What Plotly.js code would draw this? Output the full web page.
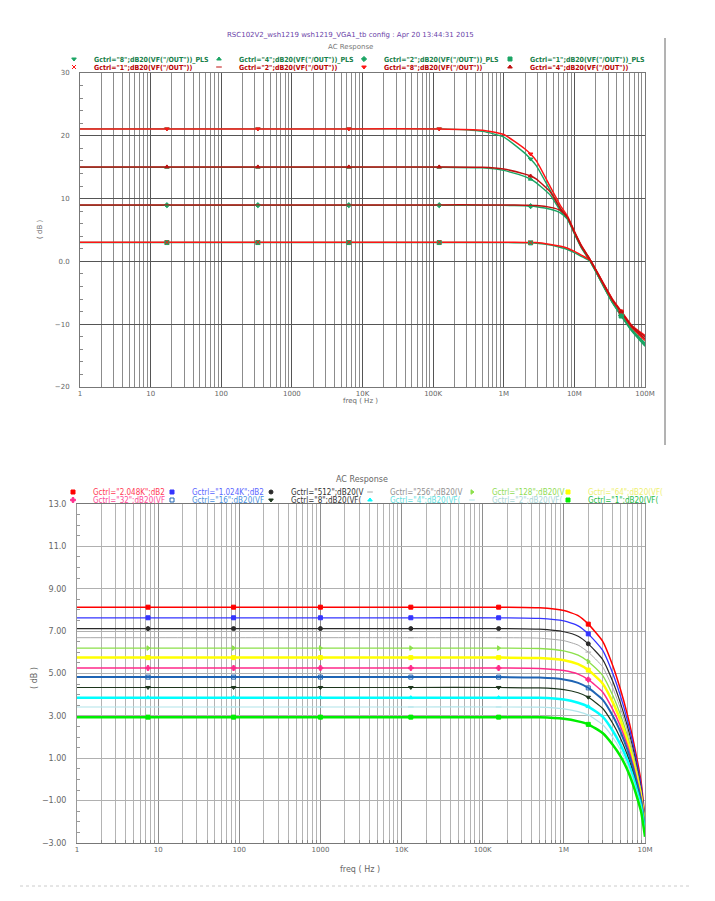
<!DOCTYPE html>
<html>
<head>
<meta charset="utf-8">
<script src="https://cdn.plot.ly/plotly-3.0.1.min.js"></script>
<style>body{margin:0;background:#fff} #chart{width:715px;height:901px}</style>
</head>
<body>
<div id="chart"></div>
<script>
// ---- top chart: AC response, Gctrl 1/2/4/8, with and without PLS ----
let topFreq = [1, 17, 330, 6400, 122000, 500000, 1e6, 2e6, 2.4e6, 2.9e6, 4.6e6, 6.4e6, 8e6, 1e7, 1.25e7, 1.67e7, 2.5e7, 3.5e7, 4.6e7, 6.5e7, 1e8]
let topMarks = [1, 2, 3, 4, 8, 18]

let g8 = [21.1, 21.1, 21.1, 21.1, 21.1, 20.9, 20.2, 17.9, 17.1, 16.0, 11.8, 8.8, 7.2, 4.8, 2.6, 0.3, -3.2, -6.1, -7.9, -10.2, -11.8]
let g4 = [15.05, 15.05, 15.05, 15.05, 15.05, 15.0, 14.7, 13.9, 13.6, 13.1, 11.0, 8.3, 7.0, 4.7, 2.5, 0.3, -3.3, -6.2, -8.0, -10.3, -12.0]
let g2 = [9.0, 9.0, 9.0, 9.0, 9.0, 9.0, 8.98, 8.95, 8.92, 8.9, 8.6, 8.1, 7.0, 4.6, 2.4, 0.2, -3.3, -6.2, -8.0, -10.4, -12.3]
let g1 = [3.05, 3.05, 3.05, 3.05, 3.05, 3.05, 3.04, 3.02, 3.0, 3.0, 2.7, 2.4, 2.1, 1.6, 1.0, 0.2, -3.4, -6.3, -8.1, -10.5, -12.6]
let g8Pls = [21.1, 21.1, 21.1, 21.1, 21.1, 20.7, 19.8, 17.2, 16.3, 15.2, 11.2, 8.4, 6.9, 4.6, 2.4, 0.1, -3.5, -6.5, -8.4, -10.8, -13.0]
let g4Pls = [15.0, 15.0, 15.0, 15.0, 15.0, 14.9, 14.5, 13.5, 13.1, 12.5, 10.5, 8.0, 6.8, 4.5, 2.3, 0.1, -3.6, -6.6, -8.5, -10.9, -13.1]
let g2Pls = [8.95, 8.95, 8.95, 8.95, 8.95, 8.95, 8.92, 8.85, 8.8, 8.7, 8.3, 7.7, 6.7, 4.4, 2.2, 0.0, -3.6, -6.6, -8.6, -11.0, -13.3]
let g1Pls = [3.0, 3.0, 3.0, 3.0, 3.0, 3.0, 2.99, 2.97, 2.95, 2.9, 2.6, 2.2, 1.9, 1.4, 0.8, 0.0, -3.7, -6.7, -8.7, -11.1, -13.5]

let topNames = [
  'Gctrl="8";dB20(VF("/OUT"))_PLS', 'Gctrl="4";dB20(VF("/OUT"))_PLS',
  'Gctrl="2";dB20(VF("/OUT"))_PLS', 'Gctrl="1";dB20(VF("/OUT"))_PLS',
  'Gctrl="1";dB20(VF("/OUT"))', 'Gctrl="2";dB20(VF("/OUT"))',
  'Gctrl="8";dB20(VF("/OUT"))', 'Gctrl="4";dB20(VF("/OUT"))'
]
let topValues = [g8Pls, g4Pls, g2Pls, g1Pls, g1, g2, g8, g4]

// ---- bottom chart: AC response, Gctrl 1 .. 2.048K ----
let botFreq = [1, 7.5, 85, 1000, 13000, 157000, 500000, 1e6, 1.5e6, 2e6, 3e6, 4e6, 5e6, 6e6, 7e6, 8e6, 9e6, 1e7]
let botMarks = [1, 2, 3, 4, 5, 9]

let gc2048 = [8.13, 8.13, 8.13, 8.13, 8.13, 8.13, 8.10, 7.97, 7.73, 7.33, 6.53, 5.38, 4.23, 3.13, 2.03, 0.93, -0.17, -1.87]
let gc1024 = [7.63, 7.63, 7.63, 7.63, 7.63, 7.63, 7.60, 7.48, 7.25, 6.87, 6.10, 5.01, 3.92, 2.86, 1.81, 0.74, -0.33, -1.97]
let gc512 = [7.12, 7.12, 7.12, 7.12, 7.12, 7.12, 7.09, 6.97, 6.76, 6.40, 5.67, 4.63, 3.59, 2.58, 1.57, 0.53, -0.50, -2.08]
let gc256 = [6.69, 6.69, 6.69, 6.69, 6.69, 6.69, 6.67, 6.55, 6.34, 6.01, 5.32, 4.33, 3.34, 2.38, 1.40, 0.41, -0.59, -2.11]
let gc128 = [6.20, 6.20, 6.20, 6.20, 6.20, 6.20, 6.18, 6.07, 5.87, 5.57, 4.91, 3.97, 3.04, 2.12, 1.18, 0.23, -0.73, -2.20]
let gc64 = [5.75, 5.75, 5.75, 5.75, 5.75, 5.75, 5.73, 5.63, 5.44, 5.16, 4.53, 3.65, 2.77, 1.90, 1.00, 0.08, -0.84, -2.25]
let gc32 = [5.26, 5.26, 5.26, 5.26, 5.26, 5.26, 5.24, 5.14, 4.97, 4.71, 4.13, 3.31, 2.49, 1.66, 0.81, -0.07, -0.95, -2.29]
let gc16 = [4.83, 4.83, 4.83, 4.83, 4.83, 4.83, 4.81, 4.72, 4.56, 4.32, 3.77, 3.01, 2.24, 1.46, 0.65, -0.19, -1.03, -2.32]
let gc8 = [4.34, 4.34, 4.34, 4.34, 4.34, 4.34, 4.32, 4.24, 4.09, 3.88, 3.36, 2.65, 1.93, 1.20, 0.43, -0.38, -1.18, -2.41]
let gc4 = [3.86, 3.86, 3.86, 3.86, 3.86, 3.86, 3.85, 3.77, 3.62, 3.44, 2.96, 2.30, 1.63, 0.95, 0.21, -0.55, -1.31, -2.49]
let gc2 = [3.42, 3.42, 3.42, 3.42, 3.42, 3.42, 3.41, 3.33, 3.20, 3.04, 2.59, 1.99, 1.38, 0.74, 0.04, -0.69, -1.41, -2.58]
let gc1 = [2.94, 2.94, 2.94, 2.94, 2.94, 2.94, 2.93, 2.86, 2.74, 2.60, 2.19, 1.64, 1.09, 0.49, -0.16, -0.86, -1.56, -2.71]

let botNames = [
  'Gctrl="2.048K";dB2', 'Gctrl="1.024K";dB2', 'Gctrl="512";dB20(V', 'Gctrl="256";dB20(V',
  'Gctrl="128";dB20(V', 'Gctrl="64";dB20(VF(', 'Gctrl="32";dB20(VF', 'Gctrl="16";dB20(VF',
  'Gctrl="8";dB20(VF(', 'Gctrl="4";dB20(VF(', 'Gctrl="2";dB20(VF(', 'Gctrl="1";dB20(VF('
]
let botValues = [gc2048, gc1024, gc512, gc256, gc128, gc64, gc32, gc16, gc8, gc4, gc2, gc1]

// styles
let topLine = ['#1aa564', '#1aa564', '#1aa564', '#1aa564', '#ff1414', '#c01010', '#ff1414', '#c01010']
let topText = ['#17804a', '#17804a', '#17804a', '#17804a', '#b80000', '#b80000', '#b80000', '#b80000']
let topSym = ['triangle-down', 'triangle-up', 'diamond', 'square', 'x-thin-open', 'line-ew-open', 'triangle-down', 'triangle-up']
let topTextX = [94, 239, 384, 530]
let topRowY = [59, 67]

let botLine = ['#ff0000', '#3434ff', '#2a2a2a', '#a8a8a8', '#8ce04a', '#ffff00', '#ff2a8a', '#1e64b4', '#1c361c', '#00ffff', '#b0e4ea', '#00ee00']
let botText = ['#ff3a55', '#5a66ff', '#333333', '#909090', '#8fdc55', '#eef070', '#ff4a95', '#4a90e0', '#333333', '#5fe0e0', '#a9d6d6', '#22bb44']
let botWidth = [1.5, 1.3, 1.2, 1, 1.3, 2.5, 1.5, 2, 1.2, 2.5, 1.2, 2.5]
let botSym = ['square', 'square', 'circle', 'line-ew-open', 'triangle-right', 'square', 'cross', 'square-open', 'triangle-down', 'triangle-up', 'line-ew-open', 'square']
let botTextX = [93, 192, 291, 390, 492, 588]
let botRowY = [492, 500]

const W = 715, H = 901
const px = v => v / W
const py = v => (H - v) / H
const legFont = 'DejaVu Sans Condensed, Liberation Sans Narrow, DejaVu Sans, sans-serif'

let data = []
let layout = {
  width: W, height: H, autosize: false,
  margin: {l: 0, r: 0, t: 0, b: 0},
  paper_bgcolor: '#fff', plot_bgcolor: '#fff',
  font: {family: 'DejaVu Sans, sans-serif', size: 7, color: '#666'},
  annotations: [], shapes: []
}

// top lines, PLS (green) drawn first so red sits above
topValues.forEach((vals, i) => {
  data.push({x: topFreq, y: vals, xaxis: 'x', yaxis: 'y', mode: 'lines', showlegend: false,
    line: {color: topLine[i], width: i < 4 ? 1.4 : 1.5, shape: 'spline', smoothing: 0.5}, hoverinfo: 'skip'})
})
topValues.forEach((vals, i) => {
  let leg = 'legend' + (i + 1 === 1 ? '' : i + 1)
  data.push({x: topMarks.map(k => topFreq[k]), y: topMarks.map(k => vals[k]), xaxis: 'x', yaxis: 'y',
    mode: 'markers', name: topNames[i], legend: leg,
    marker: {symbol: topSym[i], size: 4, color: topLine[i], line: {color: topLine[i], width: 1}}})
  layout[leg] = {x: px(topTextX[i % 4] - 40), xanchor: 'left', y: py(topRowY[Math.floor(i / 4)]), yanchor: 'middle',
    bgcolor: 'rgba(0,0,0,0)', borderwidth: 0, orientation: 'h',
    font: {family: legFont, size: 7, color: topText[i], weight: 'bold'}}
})

// bottom lines
botValues.forEach((vals, i) => {
  data.push({x: botFreq, y: vals, xaxis: 'x2', yaxis: 'y2', mode: 'lines', showlegend: false,
    line: {color: botLine[i], width: botWidth[i], shape: 'spline', smoothing: 0.5}, hoverinfo: 'skip'})
})
botValues.forEach((vals, i) => {
  let leg = 'legend' + (9 + i)
  data.push({x: botMarks.map(k => botFreq[k]), y: botMarks.map(k => vals[k]), xaxis: 'x2', yaxis: 'y2',
    mode: 'markers', name: botNames[i], legend: leg,
    marker: {symbol: botSym[i], size: 4, color: botLine[i], line: {color: botLine[i], width: 1}}})
  layout[leg] = {x: px(botTextX[i % 6] - 40), xanchor: 'left', y: py(botRowY[Math.floor(i / 6)]), yanchor: 'middle',
    bgcolor: 'rgba(0,0,0,0)', borderwidth: 0, orientation: 'h',
    font: {family: legFont, size: 8, color: botText[i]}}
})

let logAxis = (dom, anchor, top, grid, minorGrid) => ({
  type: 'log', domain: dom, anchor: anchor, range: [0, top],
  tickmode: 'linear', tick0: 0, dtick: 1, exponentformat: 'SI',
  labelalias: {'1k': '1K', '10k': '10K', '100k': '100K'},
  showgrid: true, gridcolor: grid, gridwidth: 1,
  minor: {dtick: 'D1', showgrid: true, gridcolor: minorGrid, gridwidth: 1, ticks: 'inside', ticklen: 3, tickcolor: '#888'},
  ticks: '', tickfont: {size: 7, color: '#666'},
  showline: true, linecolor: '#777', mirror: true, zeroline: false
})

layout.xaxis = logAxis([px(80), px(645)], 'y', 8, '#555', '#8c8c8c')
layout.yaxis = {
  domain: [py(387), py(73)], anchor: 'x', range: [-20, 30], tickmode: 'linear', tick0: 0, dtick: 10,
  labelalias: {'0': '0.0'}, showgrid: true, gridcolor: '#555', zeroline: false,
  minor: {dtick: 2, ticks: 'inside', ticklen: 3, tickcolor: '#888', showgrid: false},
  ticks: '', ticklabelstandoff: 8, tickfont: {size: 7, color: '#666'},
  showline: true, linecolor: '#777', mirror: true
}
layout.xaxis2 = logAxis([px(77), px(645)], 'y2', 7, '#8e8e8e', '#b4b4b4')
layout.yaxis2 = {
  domain: [py(843), py(504)], anchor: 'x2', range: [-3, 13], tickmode: 'linear', tick0: -3, dtick: 2,
  tickformat: '.3g', showgrid: true, gridcolor: '#b0b0b0', zeroline: false,
  minor: {dtick: 0.5, ticks: 'inside', ticklen: 3, tickcolor: '#999', showgrid: false},
  ticks: '', ticklabelstandoff: 8, tickfont: {size: 8, color: '#666'},
  showline: true, linecolor: '#999', mirror: true
}

let note = (x, y, text, size, color, angle) => layout.annotations.push({
  xref: 'paper', yref: 'paper', x: px(x), y: py(y), text: text, showarrow: false,
  xanchor: 'center', yanchor: 'middle', textangle: angle || 0,
  font: {size: size, color: color}
})
note(350, 35, 'RSC102V2_wsh1219 wsh1219_VGA1_tb config : Apr 20 13:44:31 2015', 7, '#6a3fa8')
note(350, 47, 'AC Response', 7, '#777')
note(40, 230, '( dB )', 7, '#666', -90)
note(360, 401, 'freq ( Hz )', 7, '#666')
note(362, 480, 'AC Response', 8, '#666')
note(34, 678, '( dB )', 8, '#666', -90)
note(360, 869, 'freq ( Hz )', 8, '#666')

layout.shapes.push({type: 'line', xref: 'paper', yref: 'paper', x0: px(665), x1: px(665), y0: py(38), y1: py(445),
  line: {color: '#666', width: 1}})
layout.shapes.push({type: 'line', xref: 'paper', yref: 'paper', x0: px(20), x1: px(692), y0: py(886), y1: py(886),
  line: {color: '#ccc', width: 1, dash: 'dot'}})

Plotly.newPlot('chart', data, layout, {displayModeBar: false, staticPlot: true})
</script>
</body>
</html>
